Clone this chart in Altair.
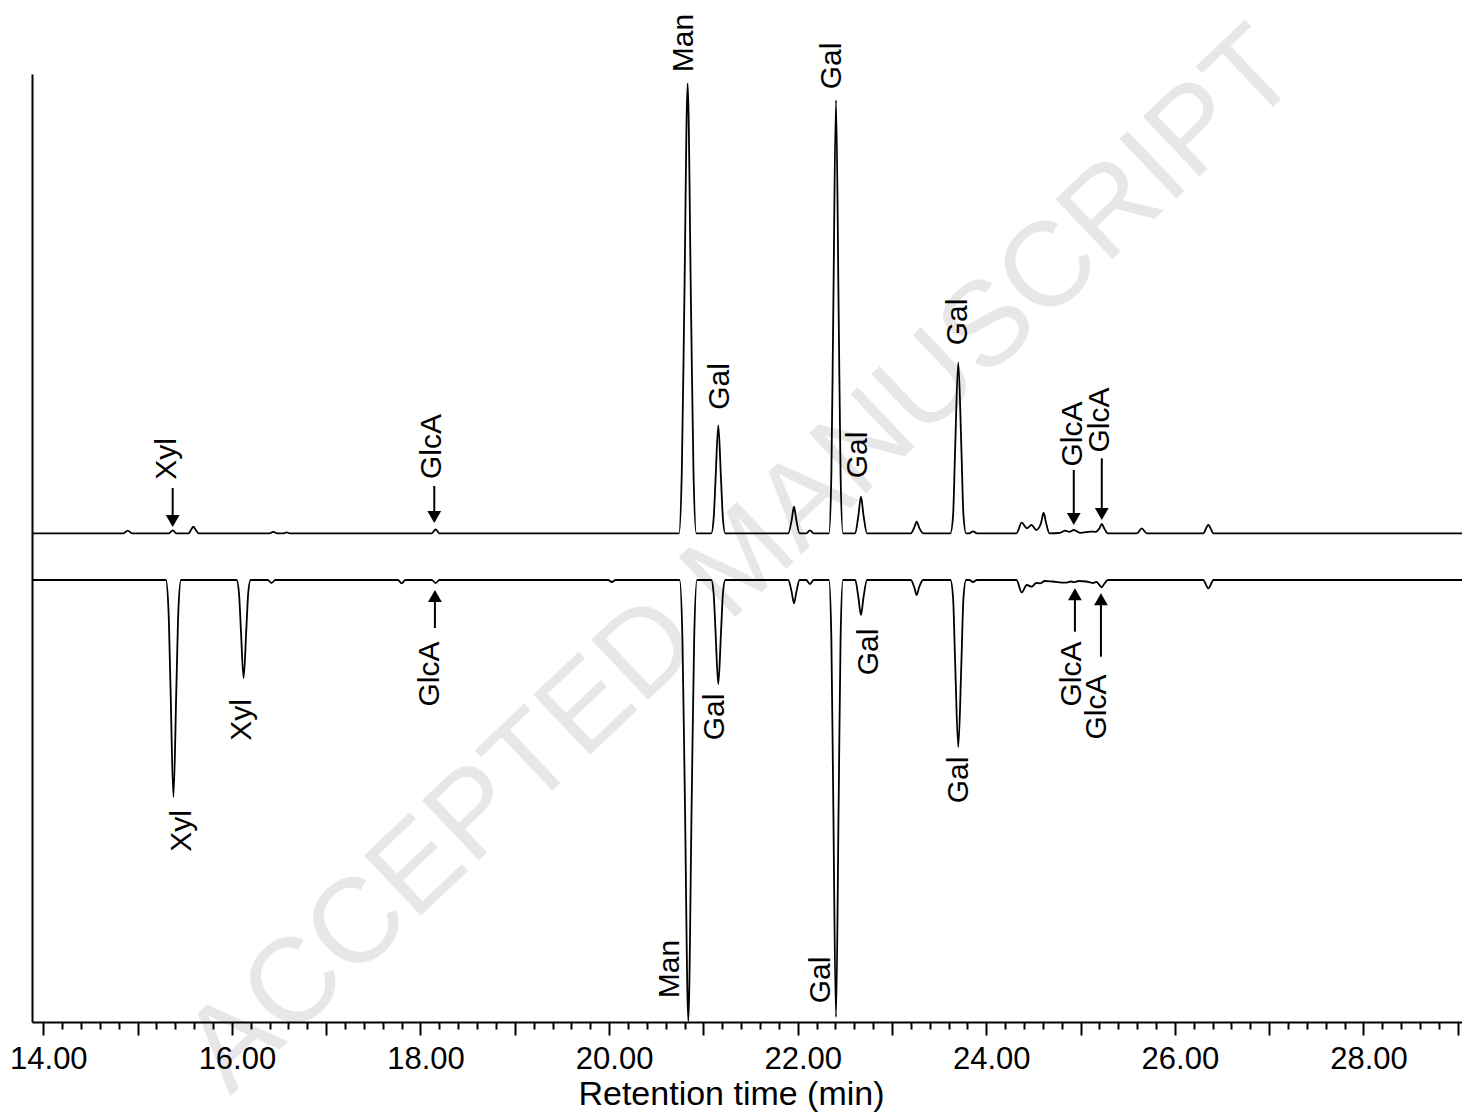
import altair as alt
import pandas as pd

FONT = "Liberation Sans"

# ---- chromatogram traces (retention time in min, intensity in arbitrary units) ----
UPPER_OFFSET = 488.7
LOWER_OFFSET = 442.0

UPPER_T = [13.88, 14.85, 14.895, 14.94, 15.33, 15.372, 15.41, 15.54, 15.567, 15.591, 15.615, 15.65,
           16.40, 16.439, 16.48, 16.55, 16.581, 16.61, 18.12, 18.161, 18.20,
           20.741, 20.771, 20.797, 20.833, 20.869, 20.895, 20.925,
           21.084, 21.109, 21.129, 21.158, 21.187, 21.207, 21.232,
           21.90, 21.936, 21.961, 21.986, 22.02, 22.09, 22.13, 22.17,
           22.332, 22.357, 22.377, 22.406, 22.435, 22.455, 22.48,
           22.61, 22.644, 22.671, 22.698, 22.735,
           23.20, 23.237, 23.262, 23.287, 23.33,
           23.62, 23.648, 23.67, 23.703, 23.736, 23.758, 23.786, 23.82, 23.86, 23.90,
           24.32, 24.376, 24.43, 24.48, 24.53, 24.58, 24.608, 24.635, 24.67,
           24.78, 24.84, 24.88, 24.928, 25.00, 25.109, 25.16, 25.20, 25.225, 25.25, 25.29,
           25.60, 25.649, 25.70, 26.30, 26.355, 26.41, 29.2]
UPPER_I = [0, 0, 2.7, 0, 0, 3, 0, 0, 3.5, 6.7, 3.5, 0,
           0, 1.5, 0, 0, 1, 0, 0, 4, 0,
           0, 61, 225, 450, 225, 61, 0,
           0, 15, 54, 108, 54, 15, 0,
           0, 13, 26.6, 13, 0, 0, 3, 0,
           0, 58, 217, 433, 217, 58, 0,
           0, 18, 36.6, 18, 0,
           0, 6, 11.6, 6, 0,
           0, 18, 85, 171, 85, 18, 0, 0, 2, 0,
           0, 10.6, 5, 8.3, 3.3, 10, 20.6, 10, 0,
           0.5, 2.7, 1.5, 3.3, 0.5, 1.7, 1.5, 5, 9.3, 5, 0,
           0, 5, 0, 0, 8.3, 0, 0]

LOWER_T = [13.88, 15.30, 15.327, 15.349, 15.38, 15.411, 15.433, 15.46,
           16.05, 16.075, 16.095, 16.124, 16.153, 16.173, 16.198,
           16.38, 16.42, 16.46, 17.76, 17.80, 17.84, 18.12, 18.161, 18.20, 19.99, 20.028, 20.07,
           20.748, 20.778, 20.804, 20.84, 20.876, 20.902, 20.932,
           21.084, 21.109, 21.129, 21.158, 21.187, 21.207, 21.232,
           21.90, 21.936, 21.961, 21.986, 22.02, 22.09, 22.13, 22.17,
           22.332, 22.357, 22.377, 22.406, 22.435, 22.455, 22.48,
           22.61, 22.644, 22.671, 22.698, 22.735,
           23.20, 23.237, 23.262, 23.287, 23.33,
           23.62, 23.648, 23.67, 23.703, 23.736, 23.758, 23.786, 23.82, 23.86, 23.90,
           24.32, 24.376, 24.43, 24.48, 24.53, 24.57, 24.62, 24.70, 24.84, 24.90, 24.928, 24.98,
           25.06, 25.128, 25.17, 25.20, 25.225, 25.25, 25.29, 26.30, 26.355, 26.41, 29.2]
LOWER_I = [0, 0, 29, 108, 217, 108, 29, 0,
           0, 13, 49, 98, 49, 13, 0,
           0, 3, 0, 0, 3.3, 0, 0, 3, 0, 0, 2, 0,
           0, 60, 221, 441, 221, 60, 0,
           0, 14, 52, 104, 52, 14, 0,
           0, 12, 23.3, 12, 0, 0, 4, 0,
           0, 58, 218, 437, 218, 58, 0,
           0, 17.5, 35, 17.5, 0,
           0, 7.5, 15, 7.5, 0,
           0, 18, 83, 167, 83, 18, 0, 0, 2, 0,
           0, 12.3, 5, 6.7, 3, 3.3, 1, 1.5, 2.7, 1.5, 2.2, 1,
           1.5, 3, 2, 5, 7.3, 4, 0, 0, 8.3, 0, 0]

# ---- peak labels ----
LABEL_TEXT = ["Xyl", "GlcA", "Man", "Gal", "Gal", "Gal", "Gal", "GlcA", "GlcA",
              "Xyl", "Xyl", "GlcA", "Man", "Gal", "Gal", "Gal", "Gal", "GlcA", "GlcA"]
LABEL_T = [15.312, 18.119, 20.794, 21.176, 22.361, 22.639, 23.700, 24.916, 25.205,
           15.468, 16.104, 18.101, 20.646, 21.123, 22.245, 22.755, 23.710, 24.914, 25.179]
LABEL_V = [563, 575.5, 979, 635.5, 956, 567, 700, 588, 602,
           191, 302, 348, 53, 305, 42, 370, 242, 348, 315]

# ---- arrows: position, tail, tip, direction (1 = pointing down, -1 = pointing up) ----
ARROW_T = [15.372, 18.146, 24.928, 25.225, 18.153, 24.940, 25.216]
ARROW_TAIL = [534, 536, 552, 563.7, 394, 390.3, 365.3]
ARROW_TIP = [495, 499, 497, 502, 432, 433.7, 428.7]
ARROW_DIR = [1, 1, 1, 1, -1, -1, -1]

TICK_VALUES = [round(14.0 + 0.2 * k, 1) for k in range(76)]

X_DOMAIN = [13.88, 29.045]
Y_DOMAIN = [0, 948]

upper = pd.DataFrame({"t": UPPER_T, "v": [UPPER_OFFSET + i for i in UPPER_I]})
lower = pd.DataFrame({"t": LOWER_T, "v": [LOWER_OFFSET - i for i in LOWER_I]})
labels = pd.DataFrame({"text": LABEL_TEXT, "t": LABEL_T, "v": LABEL_V})
arrows = pd.DataFrame({"t": ARROW_T, "tail": ARROW_TAIL, "tip": ARROW_TIP, "dir": ARROW_DIR})
arrows["line_end"] = arrows["tip"] + 6 * arrows["dir"]

xs = alt.Scale(domain=X_DOMAIN, nice=False, zero=False)
ys = alt.Scale(domain=Y_DOMAIN, nice=False, zero=False)

is_int = "abs(datum.value - round(datum.value)) < 0.01"
x_axis = alt.Axis(
    values=TICK_VALUES,
    labelExpr=f"({is_int} && round(datum.value) % 2 == 0) ? format(datum.value, '.2f') : ''",
    labelOverlap=False, labelFlush=False, labelBound=False,
    labelFont=FONT, labelFontSize=31, labelColor="black", labelPadding=9, labelOffset=5,
    tickSize={"condition": {"test": is_int, "value": 13}, "value": 7},
    tickColor="black", tickWidth=2,
    domainColor="black", domainWidth=2, grid=False, zindex=1,
    title="Retention time (min)", titleFont=FONT, titleFontSize=34, titleFontWeight="normal",
    titleColor="black", titleX=699, titleY=82, titleAlign="center", titleBaseline="alphabetic",
)
y_axis = alt.Axis(domainColor="black", domainWidth=2, ticks=False, labels=False, grid=False, title=None,
                  zindex=1)


def X(field):
    return alt.X(field, type="quantitative", scale=xs, axis=x_axis)


def Y(field):
    return alt.Y(field, type="quantitative", scale=ys, axis=y_axis)


watermark = alt.Chart(pd.DataFrame({"w": ["ACCEPTED MANUSCRIPT"]})).mark_text(
    font=FONT, fontSize=120, angle=316.5, align="center", baseline="middle", color="#e7e7e7"
).encode(x=alt.value(710), y=alt.value(487), text="w:N")

line_up = alt.Chart(upper).mark_line(color="black", strokeWidth=1.8, interpolate="monotone", clip=True).encode(
    x=X("t"), y=Y("v"))
line_lo = alt.Chart(lower).mark_line(color="black", strokeWidth=1.8, interpolate="monotone", clip=True).encode(
    x=X("t"), y=Y("v"))
text = alt.Chart(labels).mark_text(
    font=FONT, fontSize=30, angle=270, align="center", baseline="middle", color="black"
).encode(x=X("t"), y=Y("v"), text="text:N")

arrow_lines = alt.Chart(arrows).mark_rule(color="black", strokeWidth=2).encode(
    x=X("t"), y=Y("tail"), y2="line_end:Q")
heads_down = alt.Chart(arrows).transform_filter("datum.dir == 1").mark_point(
    shape="triangle-down", filled=True, size=190, color="black", opacity=1, strokeWidth=0, yOffset=-6
).encode(x=X("t"), y=Y("tip"))
heads_up = alt.Chart(arrows).transform_filter("datum.dir == -1").mark_point(
    shape="triangle-up", filled=True, size=190, color="black", opacity=1, strokeWidth=0, yOffset=6
).encode(x=X("t"), y=Y("tip"))

chart = alt.layer(watermark, line_up, line_lo, arrow_lines, heads_down, heads_up, text).properties(
    width=1430, height=948,
    padding={"left": 24, "top": 66, "right": 0, "bottom": 92},
    autosize=alt.AutoSizeParams(type="none"),
    background="white",
).configure_view(stroke=None)

chart.save("out.html", embed_options={"renderer": "svg", "actions": False})
